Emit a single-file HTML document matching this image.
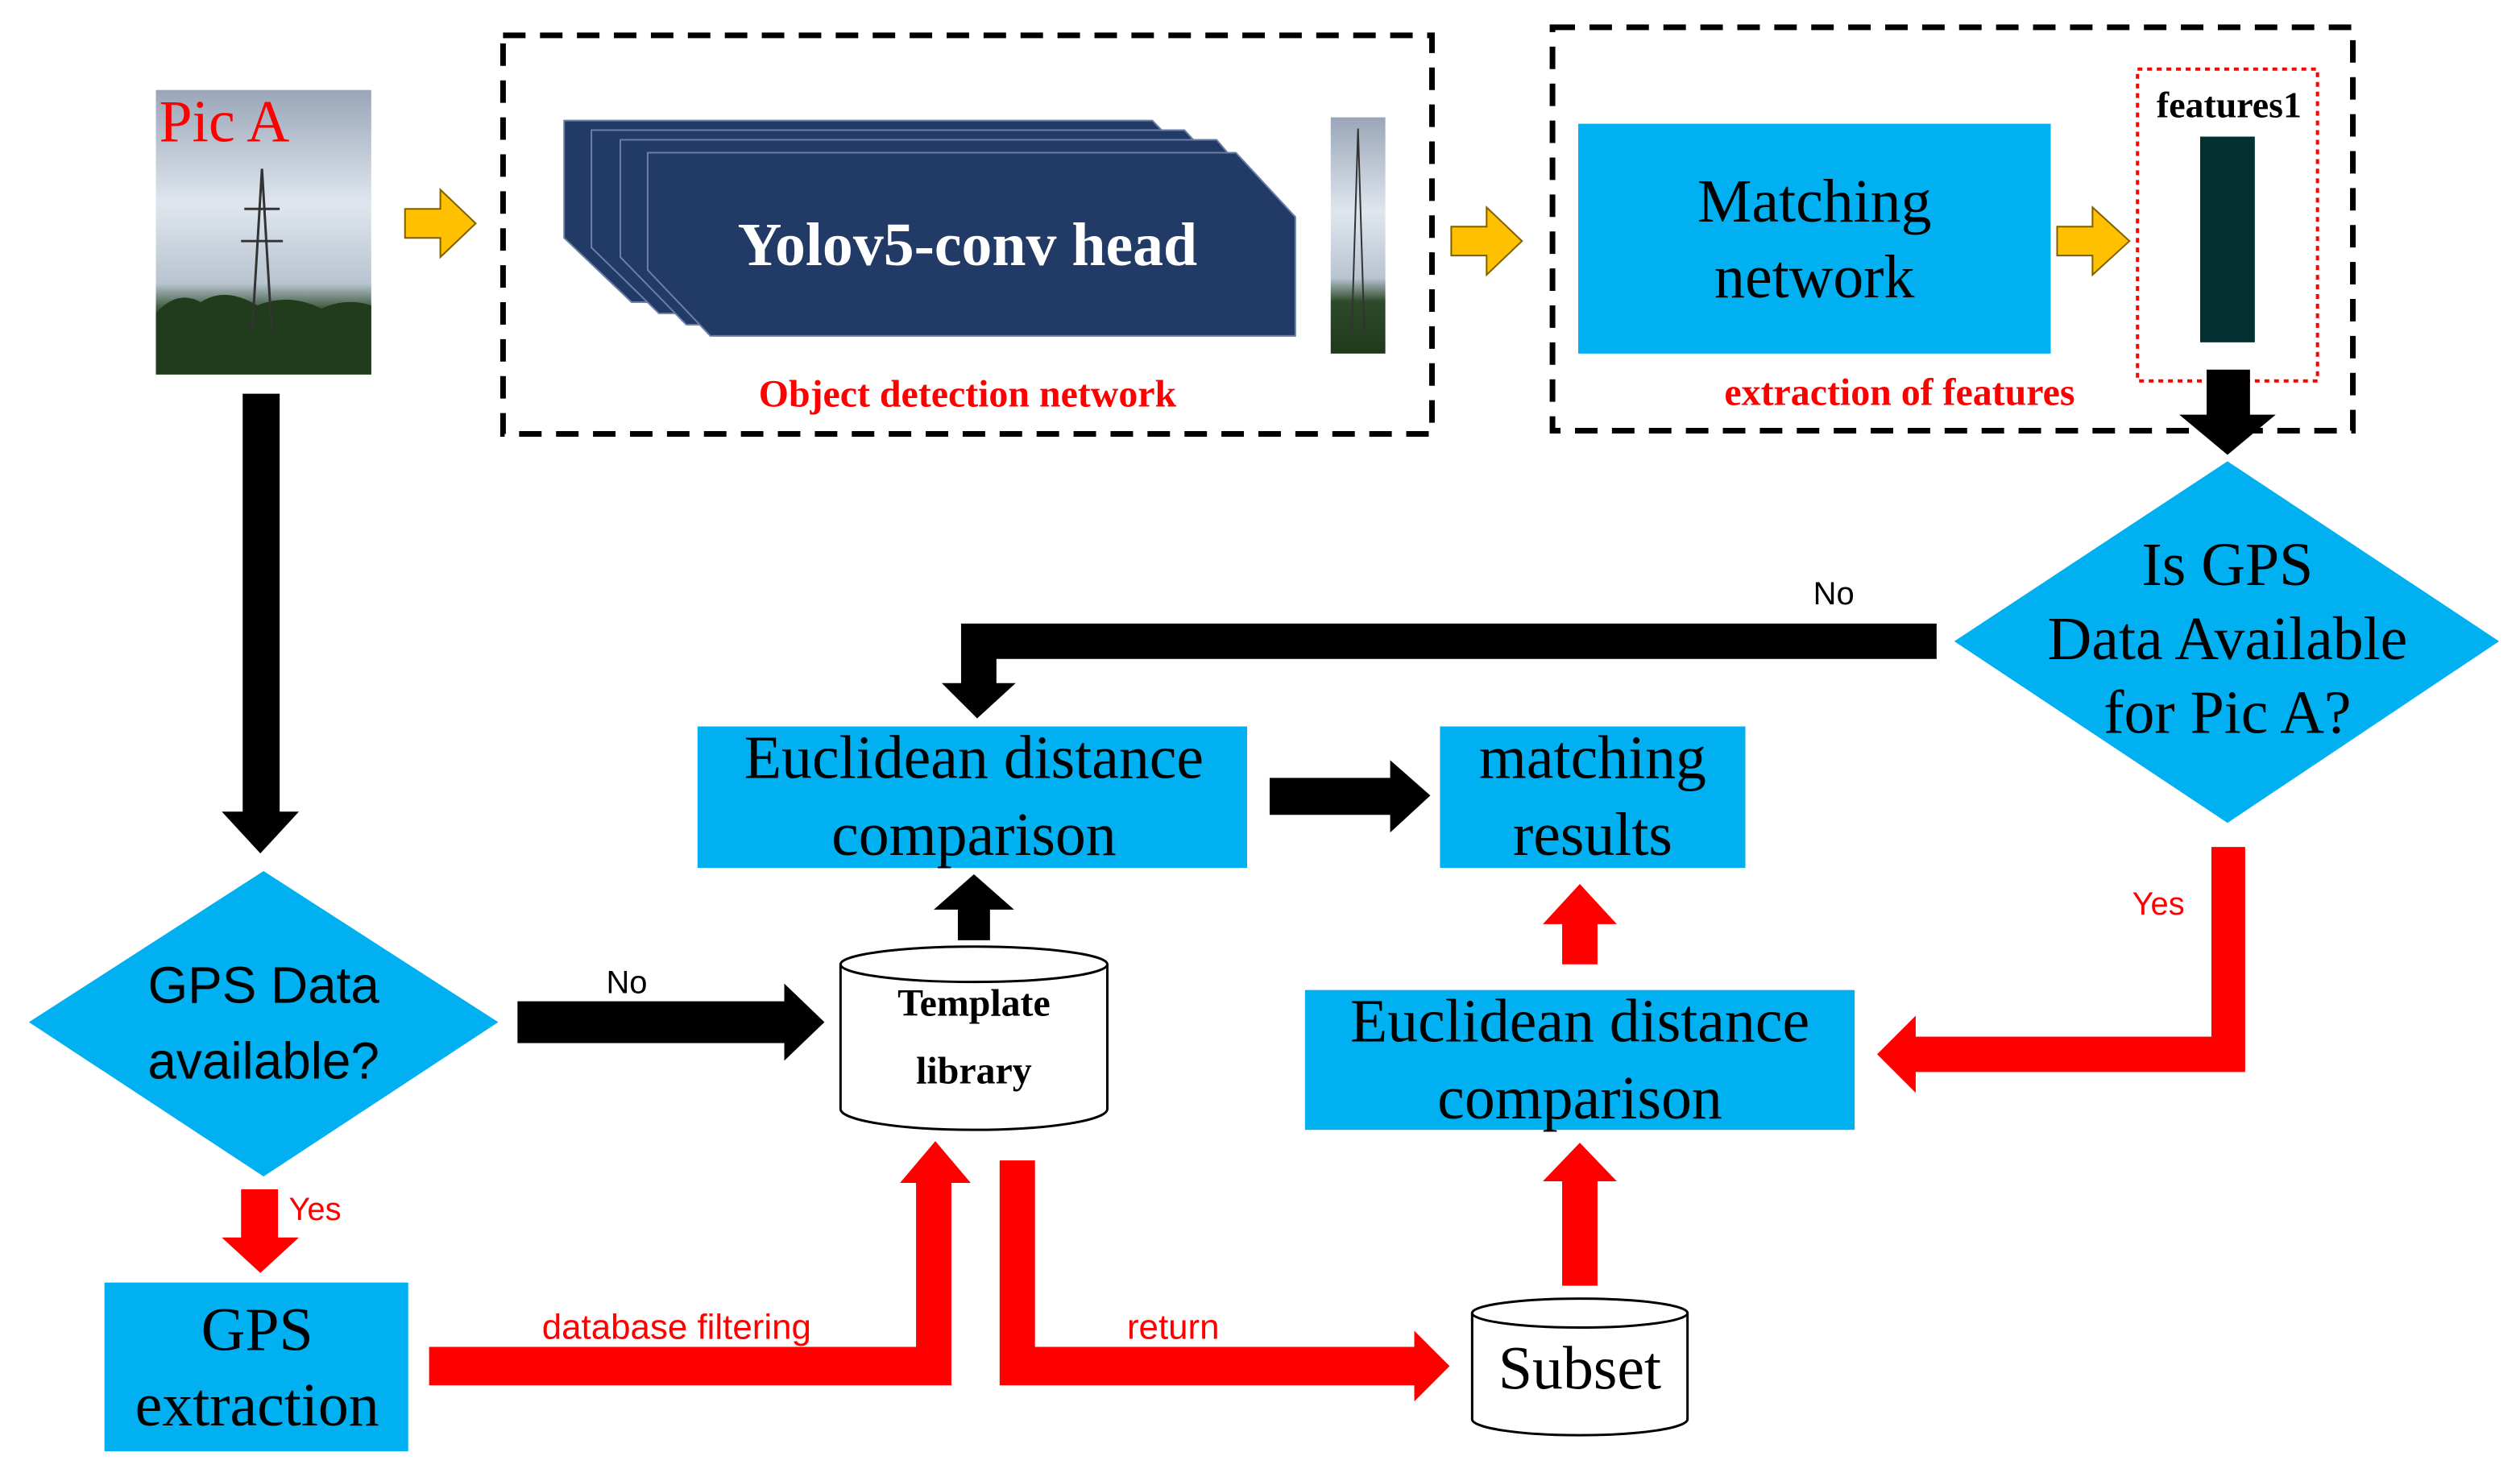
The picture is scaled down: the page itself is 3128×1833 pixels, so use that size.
<!DOCTYPE html>
<html><head><meta charset="utf-8"><style>
html,body{margin:0;padding:0;background:#fff;}
svg{display:block;}
.serif{font-family:"Liberation Serif",serif;}
.sans{font-family:"Liberation Sans",sans-serif;}
</style></head><body>
<svg width="3128" height="1833" viewBox="0 0 1568 919" preserveAspectRatio="none" xmlns="http://www.w3.org/2000/svg">
<defs>
<linearGradient id="sky" x1="0" y1="0" x2="0" y2="1">
<stop offset="0" stop-color="#9aa6b8"/><stop offset="0.4" stop-color="#dfe6ee"/><stop offset="0.68" stop-color="#b9c4d0"/><stop offset="0.78" stop-color="#2d4a2a"/><stop offset="1" stop-color="#1f3a1a"/>
</linearGradient>
</defs>
<rect x="97" y="56" width="134" height="177" fill="url(#sky)"/>
<path d="M97 195 Q110 180 125 188 Q140 178 160 190 Q180 182 200 192 Q215 185 231 190 L231 233 L97 233Z" fill="#203c1c"/>
<path d="M157 205 L163 105 L169 205 M152 130 L174 130 M150 150 L176 150" stroke="#333" stroke-width="1.5" fill="none"/>
<text x="99" y="88" class="serif" font-size="37" fill="#ff0000">Pic A</text>
<g fill="#ffc000" stroke="#7f6000" stroke-width="1">
<path d="M252 130 L274 130 L274 118 L296 139 L274 160 L274 148 L252 148Z"/>
<path d="M903 141 L925 141 L925 129 L947 150 L925 171 L925 159 L903 159Z"/>
<path d="M1280 141 L1302 141 L1302 129 L1325 150 L1302 171 L1302 159 L1280 159Z"/>
</g>
<rect x="313" y="22" width="578" height="248" fill="none" stroke="#000" stroke-width="3.5" stroke-dasharray="14,9"/>
<rect x="966" y="17" width="498" height="251" fill="none" stroke="#000" stroke-width="3.5" stroke-dasharray="14,9"/>
<g fill="#223a66" stroke="#6b7fa6" stroke-width="1">
<path d="M351 75 L717 75 L757 116 L757 188 L393 188 L351 148Z"/>
<path d="M368 81 L737 81 L775 122 L775 195 L410 195 L368 154Z"/>
<path d="M386 87 L757 87 L792 128 L792 202 L427 202 L386 160Z"/>
<path d="M403 95 L769 95 L806 135 L806 209 L442 209 L403 168Z"/>
</g>
<text x="602" y="165" text-anchor="middle" class="serif" font-size="38" font-weight="bold" fill="#fff">Yolov5-conv head</text>
<rect x="828" y="73" width="34" height="147" fill="url(#sky)"/>
<path d="M841 210 L845 80 L849 210" stroke="#333" stroke-width="1" fill="none"/>
<text x="602" y="253" text-anchor="middle" class="serif" font-size="24" font-weight="bold" fill="#ff0000">Object detection network</text>
<rect x="982" y="77" width="294" height="143" fill="#00b0f0"/>
<text x="1129" y="138" text-anchor="middle" class="serif" font-size="38" fill="#000">Matching</text>
<text x="1129" y="185" text-anchor="middle" class="serif" font-size="38" fill="#000">network</text>
<rect x="1330" y="43" width="112" height="194" fill="none" stroke="#ff0000" stroke-width="2" stroke-dasharray="3,3"/>
<text x="1387" y="73" text-anchor="middle" class="serif" font-size="23" font-weight="bold">features1</text>
<rect x="1369" y="85" width="34" height="128" fill="#033030"/>
<text x="1182" y="252" text-anchor="middle" class="serif" font-size="24" font-weight="bold" fill="#ff0000">extraction of features</text>
<path d="M1373 230 L1400 230 L1400 258 L1416 258 L1386 283 L1356 258 L1373 258Z" fill="#000"/>
<path d="M1386 287 L1555 399 L1386 512 L1216 399Z" fill="#00b0f0"/>
<text x="1386" y="364" text-anchor="middle" class="serif" font-size="38">Is GPS</text>
<text x="1386" y="410" text-anchor="middle" class="serif" font-size="38">Data Available</text>
<text x="1386" y="456" text-anchor="middle" class="serif" font-size="38">for Pic A?</text>
<text x="1141" y="376" text-anchor="middle" class="sans" font-size="20">No</text>
<path d="M1205 388 L1205 410 L620 410 L620 425 L632 425 L608 447 L586 425 L598 425 L598 388Z" fill="#000"/>
<rect x="434" y="452" width="342" height="88" fill="#00b0f0"/>
<text x="606" y="484" text-anchor="middle" class="serif" font-size="38">Euclidean distance</text>
<text x="606" y="532" text-anchor="middle" class="serif" font-size="38">comparison</text>
<path d="M790 484 L865 484 L865 473 L890 495 L865 518 L865 507 L790 507Z" fill="#000"/>
<rect x="896" y="452" width="190" height="88" fill="#00b0f0"/>
<text x="991" y="484" text-anchor="middle" class="serif" font-size="38">matching</text>
<text x="991" y="532" text-anchor="middle" class="serif" font-size="38">results</text>
<path d="M596 585 L616 585 L616 566 L631 566 L606 544 L581 566 L596 566Z" fill="#000"/>
<path d="M523 600 L523 690 A83 13 0 0 0 689 690 L689 600" fill="#fff" stroke="#000" stroke-width="1.5"/>
<ellipse cx="606" cy="600" rx="83" ry="11" fill="#fff" stroke="#000" stroke-width="1.5"/>
<text x="606" y="632" text-anchor="middle" class="serif" font-size="24" font-weight="bold">Template</text>
<text x="606" y="674" text-anchor="middle" class="serif" font-size="24" font-weight="bold">library</text>
<path d="M151 245 L174 245 L174 505 L186 505 L162 531 L138 505 L151 505Z" fill="#000"/>
<path d="M164 542 L310 636 L164 732 L18 636Z" fill="#00b0f0"/>
<text x="164" y="624" text-anchor="middle" class="sans" font-size="32">GPS Data</text>
<text x="164" y="671" text-anchor="middle" class="sans" font-size="32">available?</text>
<path d="M322 623 L488 623 L488 612 L513 636 L488 660 L488 649 L322 649Z" fill="#000"/>
<text x="390" y="618" text-anchor="middle" class="sans" font-size="20">No</text>
<path d="M150 740 L173 740 L173 770 L186 770 L162 792 L138 770 L150 770Z" fill="#ff0000"/>
<text x="196" y="759" text-anchor="middle" class="sans" font-size="20" fill="#ff0000">Yes</text>
<rect x="65" y="798" width="189" height="105" fill="#00b0f0"/>
<text x="160" y="840" text-anchor="middle" class="serif" font-size="38">GPS</text>
<text x="160" y="887" text-anchor="middle" class="serif" font-size="38">extraction</text>
<path d="M267 838 L570 838 L570 736 L560 736 L582 710 L604 736 L592 736 L592 862 L267 862Z" fill="#ff0000"/>
<text x="421" y="833" text-anchor="middle" class="sans" font-size="22" fill="#ff0000">database filtering</text>
<path d="M622 722 L644 722 L644 838 L880 838 L880 828 L902 850 L880 872 L880 862 L622 862Z" fill="#ff0000"/>
<text x="730" y="833" text-anchor="middle" class="sans" font-size="22" fill="#ff0000">return</text>
<path d="M916 817 L916 883 A67 10 0 0 0 1050 883 L1050 817" fill="#fff" stroke="#000" stroke-width="1.5"/>
<ellipse cx="983" cy="817" rx="67" ry="9" fill="#fff" stroke="#000" stroke-width="1.5"/>
<text x="983" y="864" text-anchor="middle" class="serif" font-size="38">Subset</text>
<path d="M972 800 L994 800 L994 735 L1006 735 L983 711 L960 735 L972 735Z" fill="#ff0000"/>
<rect x="812" y="616" width="342" height="87" fill="#00b0f0"/>
<text x="983" y="648" text-anchor="middle" class="serif" font-size="38">Euclidean distance</text>
<text x="983" y="696" text-anchor="middle" class="serif" font-size="38">comparison</text>
<path d="M972 600 L994 600 L994 575 L1006 575 L983 550 L960 575 L972 575Z" fill="#ff0000"/>
<path d="M1376 527 L1397 527 L1397 667 L1192 667 L1192 680 L1168 656 L1192 632 L1192 645 L1376 645Z" fill="#ff0000"/>
<text x="1343" y="569" text-anchor="middle" class="sans" font-size="20" fill="#ff0000">Yes</text>
</svg>
</body></html>
